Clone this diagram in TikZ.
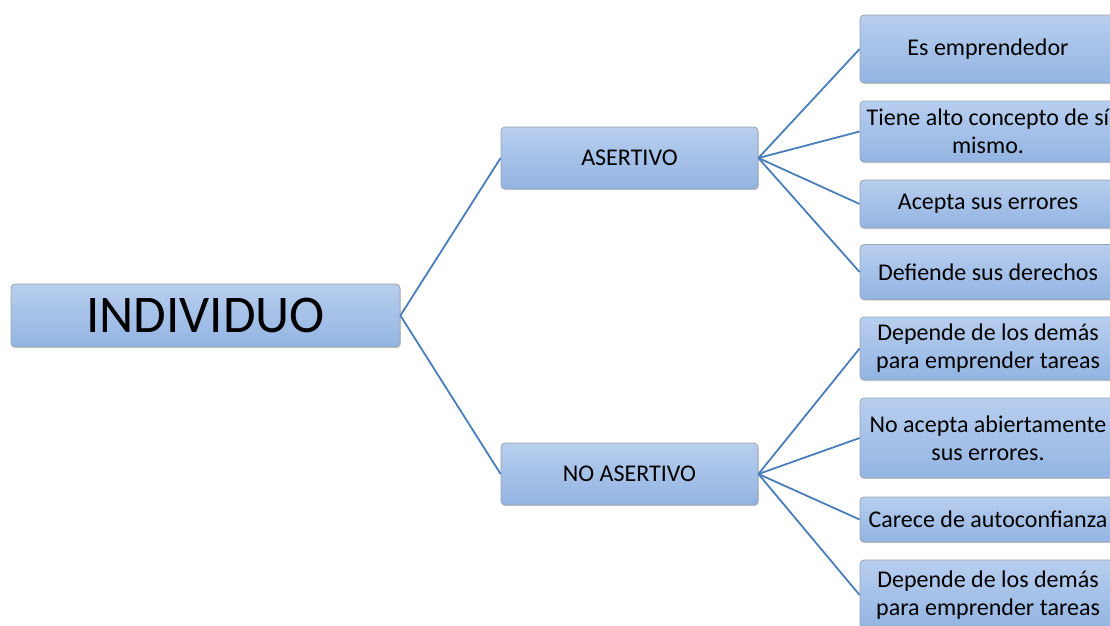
\documentclass[tikz,border=0pt]{standalone}
\usepackage{fontspec}
\setmainfont{Carlito}
\usetikzlibrary{positioning,shadows}
\definecolor{boxtop}{RGB}{184,206,238}
\definecolor{boxbot}{RGB}{146,180,226}
\definecolor{boxline}{RGB}{155,163,172}
\definecolor{linkblue}{RGB}{74,126,187}

\begin{document}
\begin{tikzpicture}[x=1pt,y=1pt,
        box/.style={draw=boxline,line width=0.8pt,rounded corners=4pt,align=center,
                    top color=boxtop,bottom color=boxbot,inner sep=2pt,
                    font=\fontsize{24}{28}\selectfont,
                    drop shadow={shadow xshift=0.8pt,shadow yshift=-1.2pt,fill=black!35}},
        leaf/.style={box,minimum width=256pt},
        link/.style={draw=linkblue,line width=1.8pt}]
        \useasboundingbox (0,0) rectangle (1110,-625);
        \node[box,minimum width=389pt,minimum height=63pt,
              font=\fontsize{53}{60}\selectfont] (ind) at (205.5,-315.5) {INDIVIDUO};
        \node[box,minimum width=257pt,minimum height=62pt] (as) at (629.5,-158) {ASERTIVO};
        \node[box,minimum width=257pt,minimum height=62pt] (nas) at (629.5,-474) {NO ASERTIVO};
        % rama asertiva
        \node[leaf,minimum height=68pt] (a1) at (988,-49) {Es emprendedor};
        \node[leaf,minimum height=61pt] (a2) at (988,-131.5) {Tiene alto concepto de sí\\mismo.};
        \node[leaf,minimum height=48pt] (a3) at (988,-204) {Acepta sus errores};
        \node[leaf,minimum height=55pt] (a4) at (988,-272) {Defiende sus derechos};
        % rama no asertiva
        \node[leaf,minimum height=63pt] (n1) at (988,-348.5) {Depende de los demás\\para emprender tareas};
        \node[leaf,minimum height=80pt] (n2) at (988,-438) {No acepta abiertamente\\sus errores.};
        \node[leaf,minimum height=45pt] (n3) at (988,-519.5) {Carece de autoconfianza};
        \node[leaf,minimum height=70pt] (n4) at (988,-595) {Depende de los demás\\para emprender tareas};
        \draw[link] (ind.east) -- (as.west);
        \draw[link] (ind.east) -- (nas.west);
        \foreach \k in {a1,a2,a3,a4}
            \draw[link] (as.east) -- (\k.west);
        \foreach \k in {n1,n2,n3,n4}
            \draw[link] (nas.east) -- (\k.west);
    \end{tikzpicture}
\end{document}
